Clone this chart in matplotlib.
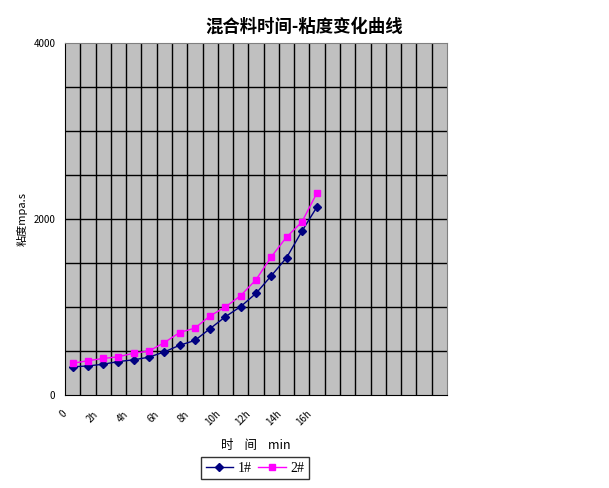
import numpy as np
import matplotlib
matplotlib.use("Agg")
import matplotlib.pyplot as plt
from matplotlib.transforms import ScaledTranslation

plt.rcParams['font.family'] = ['Noto Sans CJK SC', 'DejaVu Sans']

# 25 categories on the axis, only the first 17 carry data
n_cats = 25
cat_labels = ["0", "", "2h", "", "4h", "", "6h", "", "8h", "", "10h", "", "12h",
              "", "14h", "", "16h"] + [""] * 8
series_1 = [320, 330, 350, 380, 400, 430, 490, 565, 620, 755, 890, 1005,
            1155, 1355, 1560, 1860, 2140]
series_2 = [360, 390, 415, 435, 475, 500, 595, 710, 760, 900, 1000, 1130,
            1310, 1570, 1795, 1965, 2300]
y_grid = [0, 500, 1000, 1500, 2000, 2500, 3000, 3500, 4000]
y_labels = ["0", "", "", "", "2000", "", "", "", "4000"]

fig = plt.figure(figsize=(6.09, 4.88), dpi=100)
ax = fig.add_axes([65 / 609, 1 - 395 / 488, (447 - 65) / 609, (395 - 43) / 488])
ax.set_facecolor("#c0c0c0")

# Grid: vertical lines between categories, horizontal every 500
for k in range(1, n_cats):
    ax.axvline(k - 0.5, color="black", lw=1, zorder=1)
for v in y_grid[1:-1]:
    ax.axhline(v, color="black", lw=1, zorder=1)

x = np.arange(len(series_1))
ax.plot(x, series_1, color="#000080", marker="D", markersize=4, lw=1,
        label="1#", zorder=3)
ax.plot(x, series_2, color="#ff00ff", marker="s", markersize=5, lw=1,
        label="2#", zorder=3)

ax.set_xlim(-0.5, n_cats - 0.5)
ax.set_ylim(0, 4000)
ax.set_xticks(np.arange(n_cats))
ax.set_xticklabels(cat_labels, rotation=45, ha="right", va="top", fontsize=7)
ax.tick_params(axis="x", length=0, pad=10)
shift = ScaledTranslation(-2.5 / 72, 0, fig.dpi_scale_trans)
for lbl in ax.get_xticklabels():
    lbl.set_transform(lbl.get_transform() + shift)
ax.set_yticks(y_grid)
ax.set_yticklabels(y_labels, fontsize=7)
ax.tick_params(axis="y", length=0, pad=7)

for side in ["top", "right"]:
    ax.spines[side].set_color("#808080")
for side in ["left", "bottom"]:
    ax.spines[side].set_color("black")

ax.set_xlabel("时    间    min", fontsize=9, labelpad=8)
ax.set_ylabel("粘度mpa.s", fontsize=8, labelpad=4)
fig.suptitle("混合料时间-粘度变化曲线", fontsize=12.5, fontweight="bold",
             x=0.5, y=1 - 27 / 488, va="center")

leg = fig.legend(loc="center", bbox_to_anchor=(255 / 609, 1 - 468 / 488),
                 ncol=2, fancybox=False, edgecolor="black",
                 handlelength=2.0, columnspacing=0.5, handletextpad=0.3,
                 borderpad=0.3, prop={"family": "Liberation Serif", "size": 10})
leg.get_frame().set_linewidth(1)

fig.savefig("out.png", dpi=100)
